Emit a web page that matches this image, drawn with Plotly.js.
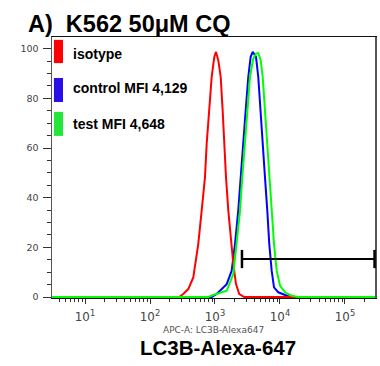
<!DOCTYPE html>
<html>
<head>
<meta charset="utf-8">
<script src="https://cdn.plot.ly/plotly-3.0.1.min.js"></script>
<style>html,body{margin:0;padding:0;background:#fff;}#chart{width:380px;height:366px;}</style>
</head>
<body>
<div id="chart"></div>
<script>
// Fluorescence (log10 units) and counts (% of max)
var isotypeLog = [0.3, 2.45, 2.512, 2.589, 2.666, 2.743, 2.795, 2.846, 2.872, 2.912, 2.949, 2.989, 3.015, 3.051, 3.088, 3.118, 3.143, 3.169, 3.205, 3.242, 3.282, 3.323, 3.374, 3.45, 5.6];
var isotypeY   = [0, 0, 1.2, 3.2, 7.9, 21.4, 34.8, 48.3, 61.7, 75.1, 88.6, 96.7, 98.7, 95.3, 88.6, 75.1, 61.7, 48.3, 34.8, 24.2, 13.3, 5.2, 1.2, 0, 0];

var controlLog = [0.3, 2.95, 3.026, 3.180, 3.257, 3.308, 3.358, 3.400, 3.435, 3.472, 3.512, 3.549, 3.580, 3.631, 3.666, 3.703, 3.743, 3.769, 3.805, 3.835, 3.872, 3.908, 3.974, 4.051, 4.154, 5.6];
var controlY   = [0, 0, 1.2, 5.2, 10.6, 21.4, 34.8, 48.3, 61.7, 75.1, 88.6, 96.7, 98.7, 96.7, 88.6, 75.1, 61.7, 48.3, 34.8, 21.4, 10.6, 3.9, 1.9, 1.2, 0, 0];

var testLog = [0.3, 2.90, 2.974, 3.180, 3.282, 3.334, 3.385, 3.420, 3.462, 3.497, 3.538, 3.589, 3.631, 3.666, 3.703, 3.734, 3.769, 3.805, 3.835, 3.872, 3.908, 3.949, 4.000, 4.077, 4.180, 4.277, 5.6];
var testY   = [0, 0, 0.8, 2.5, 9.3, 21.4, 34.8, 48.3, 61.7, 75.1, 88.6, 96.0, 98.0, 98.2, 95.3, 88.6, 75.1, 61.7, 48.3, 34.8, 21.4, 10.6, 4.6, 1.9, 0.5, 0, 0];

// Gate marker
var gateLog = [3.415, 5.455];
var gateY = [15.3, 15.3];

var seriesNames = ['isotype', 'control MFI 4,129', 'test MFI 4,648'];

function lin(a){ return a.map(function(v){ return Math.pow(10, v); }); }

var traces = [
  {x: lin(controlLog), y: controlY, mode: 'lines', line: {color: '#0000ff', width: 2}, name: seriesNames[1], hoverinfo: 'skip'},
  {x: lin(isotypeLog), y: isotypeY, mode: 'lines', line: {color: '#ff0000', width: 2}, name: seriesNames[0], hoverinfo: 'skip'},
  {x: lin(testLog), y: testY, mode: 'lines', line: {color: '#00ff00', width: 2}, name: seriesNames[2], hoverinfo: 'skip'},
  {x: lin(gateLog), y: gateY, mode: 'lines+markers', cliponaxis: false,
   line: {color: '#000', width: 2},
   marker: {symbol: 'line-ns-open', size: 13, line: {color: '#000', width: 2.5}, color: '#000'},
   hoverinfo: 'skip'}
];

var legendColors = ['#ff0000', '#2a10e6', '#22e63a'];
var boxY = [[0.900, 0.989], [0.751, 0.843], [0.621, 0.713]];
var textY = [0.935, 0.805, 0.667];

var shapes = [];
var annotations = [];
for (var i = 0; i < 3; i++) {
  shapes.push({type: 'rect', xref: 'paper', yref: 'paper', x0: 0.006, x1: 0.034, y0: boxY[i][0], y1: boxY[i][1],
               fillcolor: legendColors[i], line: {width: 0}});
  annotations.push({xref: 'paper', yref: 'paper', x: 0.060, y: textY[i], xanchor: 'left', yanchor: 'middle',
                    text: '<b>' + seriesNames[i] + '</b>', showarrow: false,
                    font: {family: 'Liberation Sans, Arial, sans-serif', size: 14, color: '#000'}});
}
annotations.push({xref: 'paper', yref: 'paper', x: 0.5, y: -0.123, xanchor: 'center', yanchor: 'middle',
                  text: 'APC-A: LC3B-Alexa647', showarrow: false,
                  font: {family: 'DejaVu Sans, sans-serif', size: 9, color: '#555'}});
annotations.push({xref: 'paper', yref: 'paper', x: 0.514, y: -0.19, xanchor: 'center', yanchor: 'middle',
                  text: '<b>LC3B-Alexa-647</b>', showarrow: false,
                  font: {family: 'Liberation Sans, Arial, sans-serif', size: 20.5, color: '#000'}});

var layout = {
  width: 380, height: 366,
  margin: {l: 52, r: 5, t: 37, b: 68},
  paper_bgcolor: '#fff', plot_bgcolor: '#fff',
  showlegend: false,
  title: {text: '<b>A)&nbsp;&nbsp;K562 50μM CQ</b>', x: 28/380, xanchor: 'left', y: 1 - 24/366, yanchor: 'middle',
          font: {family: 'Liberation Sans, Arial, sans-serif', size: 23.5, color: '#000'}},
  xaxis: {type: 'log', range: [0.492, 5.462], tickmode: 'linear', tick0: 0, dtick: 1,
          exponentformat: 'power', labelalias: {'10': '10<sup>1</sup>'},
          ticks: 'outside', ticklen: 5, tickwidth: 1, tickcolor: '#333', ticklabelstandoff: 3,
          minor: {ticks: 'outside', ticklen: 3, tickwidth: 1, tickcolor: '#333', dtick: 'D1'},
          showgrid: false, zeroline: false, showline: true, linecolor: '#111', linewidth: 1, mirror: true,
          layer: 'below traces',
          tickfont: {family: 'DejaVu Sans, sans-serif', size: 9.5, color: '#444'}},
  yaxis: {range: [-0.4, 104.7], tickmode: 'linear', tick0: 0, dtick: 20,
          ticks: 'outside', ticklen: 8, tickwidth: 1, tickcolor: '#333', ticklabelstandoff: 2,
          minor: {ticks: 'outside', ticklen: 4, tickwidth: 1, tickcolor: '#333', dtick: 5},
          showgrid: false, zeroline: false, showline: true, linecolor: '#555', linewidth: 1.5, mirror: true,
          layer: 'below traces',
          tickfont: {family: 'DejaVu Sans, sans-serif', size: 9.5, color: '#444'}},
  shapes: shapes,
  annotations: annotations
};

Plotly.newPlot('chart', traces, layout, {displayModeBar: false, staticPlot: true});
</script>
</body>
</html>
